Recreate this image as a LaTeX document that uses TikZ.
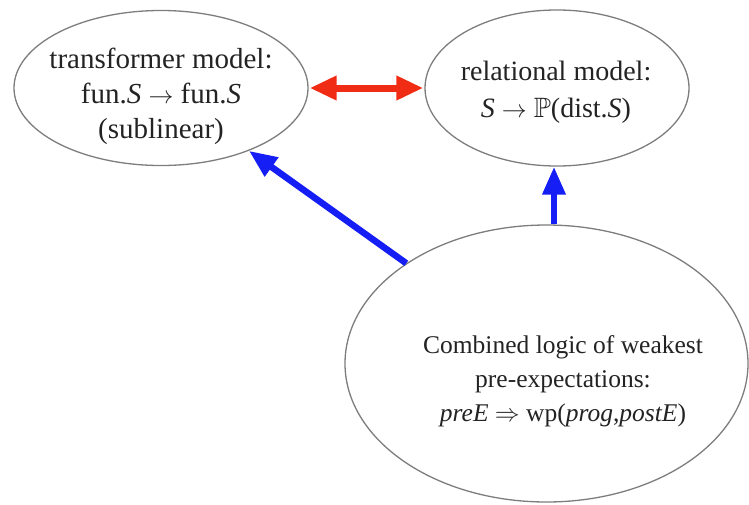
\documentclass[tikz,border=0pt]{standalone}
\usepackage{amssymb}
\usepackage{fontspec}
\setmainfont{Liberation Serif}
\usetikzlibrary{shapes.geometric,arrows.meta}
\definecolor{edgegray}{RGB}{125,125,125}
\definecolor{txtgray}{RGB}{35,35,35}
\definecolor{arrred}{RGB}{240,45,20}
\definecolor{arrblue}{RGB}{20,30,245}
\tikzset{
  oval/.style={ellipse, draw=edgegray, line width=1.3pt, fill=white, inner sep=0pt},
  ovaltext/.style={align=center, text=txtgray, inner sep=0pt},
  redarrow/.style={draw=arrred, line width=7pt, {Triangle[length=27pt,width=23pt]}-{Triangle[length=27pt,width=23pt]}, shorten <=1pt, shorten >=1pt},
  bluearrow/.style={draw=arrblue, line width=6.5pt, -{Triangle[length=28pt,width=22pt]}},
}
\begin{document}
\begin{tikzpicture}[x=1pt,y=-1pt]
\useasboundingbox (0,0) rectangle (749,504);
\node[oval, minimum width=294pt, minimum height=155pt] (trans) at (161,88) {};
\node[oval, minimum width=264pt, minimum height=156pt] (rel) at (557,88) {};
\node[oval, minimum width=403pt, minimum height=277pt] (comb) at (546.5,363.5) {};
\node[ovaltext, font=\fontsize{29}{35}\selectfont] (transtext) at (161,96)
  {transformer model:\\ fun.\textit{S} $\rightarrow$ fun.\textit{S}\\ (sublinear)};
\node[ovaltext, font=\fontsize{28}{37}\selectfont] (reltext) at (556,92)
  {relational model:\\ \textit{S} $\rightarrow$ $\mathbb{P}$(dist.\textit{S})};
\node[ovaltext, font=\fontsize{25.5}{34}\selectfont] (combtext) at (563,381)
  {Combined logic of weakest\\ pre-expectations:\\ \textit{preE} $\Rightarrow$ wp(\textit{prog},\textit{postE})};
\draw[redarrow] (trans.east) -- (rel.west);
\draw[bluearrow] (comb) -- (trans);
\draw[bluearrow] ([xshift=-3pt]rel.south |- comb.north) -- ([xshift=-3pt]rel.south);
\end{tikzpicture}
\end{document}
